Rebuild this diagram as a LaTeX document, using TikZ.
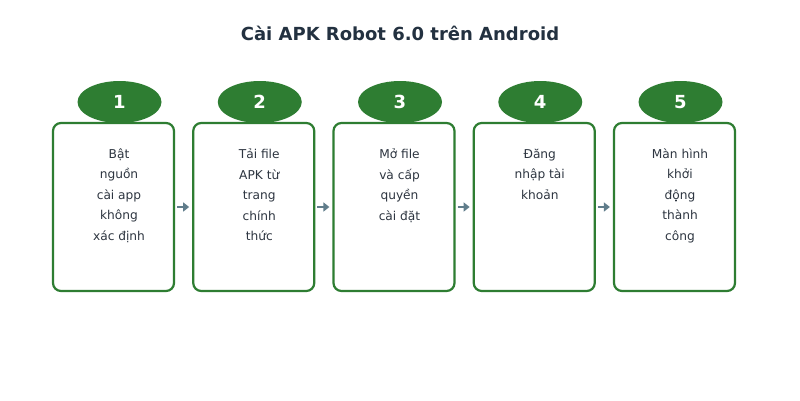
\documentclass[tikz,border=0pt]{standalone}
\usepackage{fontspec}
\setmainfont{DejaVu Sans}
\usetikzlibrary{arrows.meta,calc,shapes.geometric}
\definecolor{stepgreen}{HTML}{2E7D32}
\definecolor{titlecol}{HTML}{233140}
\definecolor{bodycol}{HTML}{2D3540}
\definecolor{arrowcol}{HTML}{607D8B}
\tikzset{
  stepbox/.style={draw=stepgreen, line width=2.2pt, rounded corners=8pt, fill=white,
    minimum width=121pt, minimum height=168pt, inner sep=0pt},
  badge/.style={ellipse, fill=stepgreen, minimum width=84pt, minimum height=42pt, inner sep=0pt,
    text=white, font=\fontsize{18}{20}\selectfont\bfseries},
  steptext/.style={anchor=north, align=center, inner sep=0pt, text=bodycol,
    font=\fontsize{12.2}{20.5}\selectfont},
  flow/.style={draw=arrowcol, line width=2.6pt, -{Triangle[length=6pt,width=9pt]}, fill=arrowcol}
}
\begin{document}
\begin{tikzpicture}[x=1pt,y=-1pt]
\useasboundingbox[fill=white] (0,0) rectangle (800,400);
\node[text=titlecol, font=\fontsize{18}{21}\selectfont\bfseries] (title) at (400,33) {Cài APK Robot 6.0 trên Android};
\foreach \i/\num/\txt in {0/1/{Bật\\nguồn\\cài app\\không\\xác định},
  1/2/{Tải file\\APK từ\\trang\\chính\\thức},
  2/3/{Mở file\\và cấp\\quyền\\cài đặt},
  3/4/{Đăng\\nhập tài\\khoản},
  4/5/{Màn hình\\khởi\\động\\thành\\công}} {
  \node[stepbox] (box\num) at ({113.5+140.25*\i},207) {};
  \node[badge] (badge\num) at ({119.5+140.25*\i},102) {\num};
  \node[steptext] (text\num) at ({119+140.25*\i},148.5) {\txt};
}
\foreach \a/\b in {1/2,2/3,3/4,4/5} {
  \draw[flow, shorten <=2pt, shorten >=3pt] (box\a.east) -- (box\b.west);
}
\end{tikzpicture}
\end{document}
